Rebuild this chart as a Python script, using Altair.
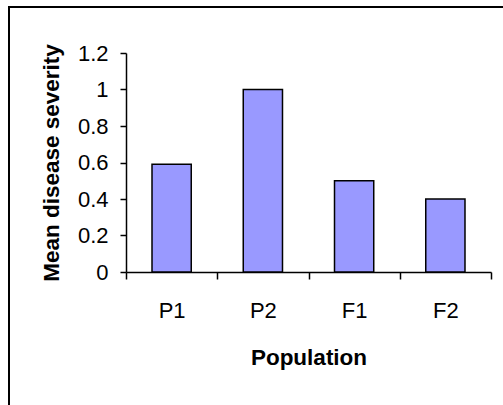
import altair as alt
import pandas as pd

# Mean disease severity per population
populations = ["P1", "P2", "F1", "F2"]
severity = [0.59, 1.0, 0.5, 0.4]
y_ticks = [0, 0.2, 0.4, 0.6, 0.8, 1.0, 1.2]

df = pd.DataFrame({"Population": populations, "Severity": severity})

FONT = "Arial, Liberation Sans, sans-serif"
W, H = 365, 219
LEFT, TOP = 126, 53

bars = alt.Chart(df).mark_bar(
    color="#9999FF",
    stroke="black",
    strokeWidth=1.5,
    width=alt.RelativeBandSize(0.43),
).encode(
    x=alt.X(
        "Population:N",
        sort=populations,
        scale=alt.Scale(paddingInner=0, paddingOuter=0),
        axis=alt.Axis(
            title="Population",
            labelAngle=0,
            tickBand="extent",
            tickSize=7,
            labelPadding=21,
            titlePadding=25,
        ),
    ),
    y=alt.Y(
        "Severity:Q",
        scale=alt.Scale(domain=[0, 1.2], nice=False),
        axis=alt.Axis(
            title="Mean disease severity",
            values=y_ticks,
            format="~g",
            tickSize=6,
            labelPadding=12,
            titlePadding=14,
            grid=False,
        ),
    ),
)

# outer frame around the whole chart
frame = alt.Chart(df).mark_rect(
    fill=None, stroke="black", strokeWidth=2, clip=False
).encode(
    x=alt.value(9 - LEFT),
    x2=alt.value(W + 200),
    y=alt.value(7 - TOP),
    y2=alt.value(H + 300),
)

chart = alt.layer(frame, bars).properties(
    width=W,
    height=H,
    autosize=alt.AutoSizeParams(type="none"),
    padding={"left": LEFT, "top": TOP, "right": 503 - LEFT - W, "bottom": 405 - TOP - H},
    background="white",
).configure_view(
    stroke=None
).configure_axis(
    domainColor="black",
    domainWidth=1.5,
    tickColor="black",
    tickWidth=1.5,
    labelColor="black",
    labelFont=FONT,
    labelFontSize=22,
    titleFont=FONT,
    titleFontSize=22.5,
    titleFontWeight="bold",
    titleColor="black",
    grid=False,
)

chart.save("out.html", embed_options={"renderer": "svg", "actions": False})
